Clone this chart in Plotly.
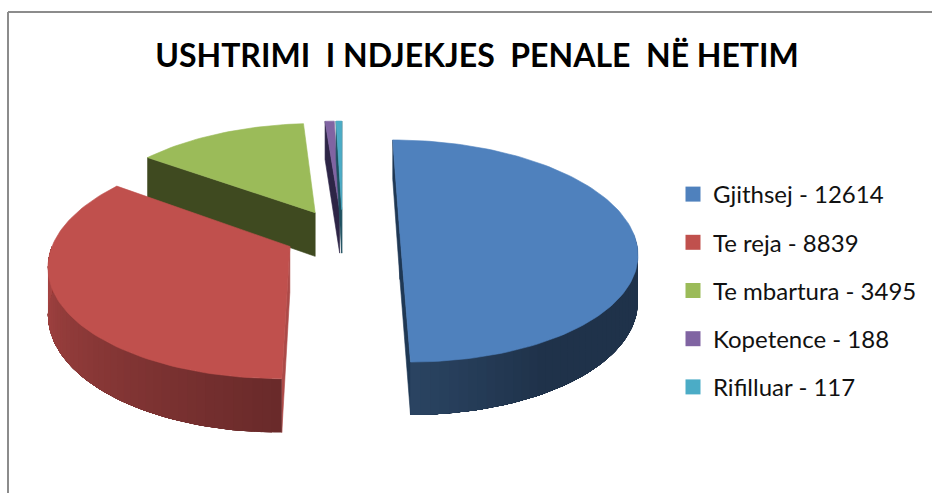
import math
import plotly.graph_objects as go

TITLE = "USHTRIMI\u00a0 I NDJEKJES\u00a0 PENALE\u00a0 NË HETIM"
categories = ["Gjithsej", "Te reja", "Te mbartura", "Kopetence", "Rifilluar"]
values = [12614, 8839, 3495, 188, 117]
top_colors = ["#4F81BD", "#C0504D", "#9BBB59", "#8064A2", "#4BACC6"]
cut_colors = ["#1F3854", "#AC4A48", "#3F4A20", "#2D2546", "#1E5060"]
rim_from = [(31, 50, 74), (105, 42, 42), (63, 73, 32), (45, 37, 70), (30, 80, 96)]
rim_to = [(42, 68, 98), (168, 69, 67), (63, 73, 32), (45, 37, 70), (30, 80, 96)]
shade_from = [150.0, 180.0, 90.0, 90.0, 90.0]
shade_to = [180.0, 270.0, 270.0, 270.0, 270.0]
nudge_x = [1.5, -3.0, -1.5, -0.5, -0.5]

# Projection of the exploded, tilted pie (pixel-based axis space)
CX, CY, RX, RY = 343.0, 234.5, 234.0, 108.6
PERSP, EXPLODE, DEPTH, STEP = 0.149, 0.237, 45.0, 1.5


def project(u, v, down=False, dx=0.0):
    s = 1 / (1 - PERSP * v)
    return CX + dx + RX * u * s, CY + RY * v * s + (DEPTH * s if down else 0)


def rim(a0, a1, off, down=False, dx=0.0):
    n = max(2, int(abs(a1 - a0) / STEP) + 1)
    pts = []
    for i in range(n + 1):
        t = math.radians(a0 + (a1 - a0) * i / n)
        pts.append(project(off[0] + math.sin(t), off[1] - math.cos(t), down, dx))
    return pts


def poly(fig, pts, color, width=0.6):
    fig.add_trace(go.Scatter(
        x=[p[0] for p in pts] + [pts[0][0]], y=[p[1] for p in pts] + [pts[0][1]],
        mode="lines", fill="toself", fillcolor=color, showlegend=False,
        line=dict(color=color, width=width), hoverinfo="skip"))


def mix(c0, c1, f):
    f = min(1.0, max(0.0, f))
    return "rgb(%d,%d,%d)" % tuple(round(a + (b - a) * f) for a, b in zip(c0, c1))


fig = go.Figure()
total = sum(values)
spans, start = [], 0.0
for v in values:
    spans.append((start, start + 360.0 * v / total))
    start = spans[-1][1]

for i in [2, 3, 4, 0, 1]:
    a0, a1 = spans[i]
    dx = nudge_x[i]
    mid = math.radians((a0 + a1) / 2)
    off = (EXPLODE * math.sin(mid), -EXPLODE * math.cos(mid))
    apex, apex_low = project(*off, False, dx), project(*off, True, dx)
    m = rim((a0 + a1) / 2, (a0 + a1) / 2, off, False, dx)[0]
    # flat cut faces, only where they face the viewer
    for ang in (a0, a1):
        p = rim(ang, ang, off, False, dx)[0]
        p_low = rim(ang, ang, off, True, dx)[0]
        ex, ey = p[0] - apex[0], p[1] - apex[1]
        side_in = ex * (m[1] - apex[1]) - ey * (m[0] - apex[0])
        side_down = ex
        if side_in * side_down < 0:
            poly(fig, [apex, p, p_low, apex_low], cut_colors[i])
    # outer wall, front half only: overlapping shading bands
    w0, w1 = max(a0, 90.0), min(a1, 270.0)
    if w1 > w0:
        n = max(1, int((w1 - w0) / 2))
        for k in range(n):
            b0 = w0 + (w1 - w0) * k / n
            top = rim(b0, w1, off, False, dx)
            low = rim(b0, w1, off, True, dx)
            f = ((b0 + (w1 - w0) / n / 2) - shade_from[i]) / (shade_to[i] - shade_from[i])
            poly(fig, top + low[::-1], mix(rim_from[i], rim_to[i], f), width=0)
    poly(fig, [apex] + rim(a0, a1, off, False, dx), top_colors[i])

for i, (c, v) in enumerate(zip(categories, values)):
    fig.add_trace(go.Scatter(
        x=[None], y=[None], mode="markers", name=f"{c} - {v}", legendgroup=c,
        marker=dict(symbol="square", size=15, color=top_colors[i])))

fig.update_layout(
    width=932, height=493, margin=dict(l=0, r=0, t=0, b=0),
    paper_bgcolor="white", plot_bgcolor="white", showlegend=True,
    font=dict(family="Lato", color="#111111"),
    title=dict(text=TITLE, x=477 / 932, xanchor="center", y=1 - 56 / 493, yanchor="middle",
               font=dict(family="Lato", size=32, color="#000000", weight="bold")),
    xaxis=dict(range=[0, 932], visible=False, fixedrange=True),
    yaxis=dict(range=[493, 0], visible=False, fixedrange=True),
    legend=dict(x=673 / 932, xanchor="left", y=1 - 172 / 493, yanchor="top",
                font=dict(family="Lato", size=24), tracegroupgap=14,
                bgcolor="rgba(0,0,0,0)", itemclick=False, itemdoubleclick=False),
    shapes=[
        dict(type="line", xref="paper", yref="paper", x0=8 / 932, x1=8 / 932, y0=0, y1=1 - 12 / 493,
             line=dict(color="#8C8C8C", width=2)),
        dict(type="line", xref="paper", yref="paper", x0=8 / 932, x1=1, y0=1 - 12 / 493, y1=1 - 12 / 493,
             line=dict(color="#8C8C8C", width=2)),
    ],
)
fig.write_html("out.html", config={"displayModeBar": False},
               post_script="document.body.style.margin='0';document.body.style.overflow='hidden';")
